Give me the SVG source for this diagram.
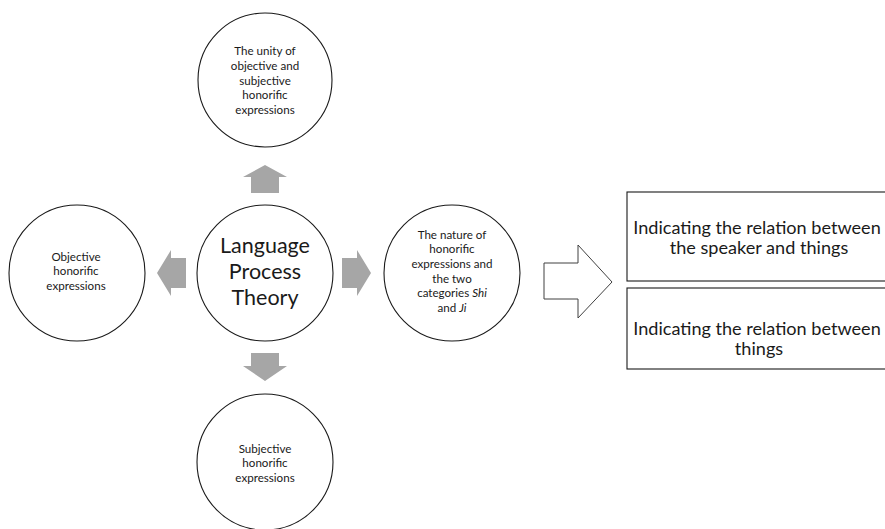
<svg xmlns="http://www.w3.org/2000/svg" width="885" height="529" viewBox="0 0 885 529">
<style>
.c{fill:#fff;stroke:#1a1a1a;stroke-width:1.1}
.b{fill:#fff;stroke:#1a1a1a;stroke-width:1.1}
.a{fill:#a6a6a6;stroke:none}
.o{fill:#fff;stroke:#404040;stroke-width:1}
text{font-family:Lato,"Open Sans","Liberation Sans",sans-serif;fill:#1a1a1a;text-anchor:middle}
.s{font-size:11.6px}
.l{font-size:21.5px}
.m{font-size:18.1px}
</style>
<rect width="885" height="529" fill="#fff"/>
<g id="connectors">
<polygon class="a" points="265,165 287,177 279,177 279,193 251,193 251,177 243,177"/>
<polygon class="a" points="265,381 287,366 279,366 279,353 251,353 251,366 243,366"/>
<polygon class="a" points="157,273 171,250 171,258 186,258 186,288 171,288 171,296"/>
<polygon class="a" points="371,273 357,250 357,258 342,258 342,288 357,288 357,296"/>
<polygon class="o" points="544,263 578,263 578,245 612,282 578,318 578,299 544,299"/>
</g>
<g id="center">
<circle class="c" cx="265" cy="273" r="68"/>
<text class="l"><tspan x="265" y="253">Language</tspan><tspan x="265" y="279">Process</tspan><tspan x="265" y="305">Theory</tspan></text>
</g>
<g id="top">
<circle class="c" cx="265" cy="80" r="67"/>
<text class="s"><tspan x="265" y="55">The unity of</tspan><tspan x="265" y="70">objective and</tspan><tspan x="265" y="85">subjective</tspan><tspan x="265" y="99">honorific</tspan><tspan x="265" y="114">expressions</tspan></text>
</g>
<g id="left">
<circle class="c" cx="77" cy="273" r="68"/>
<text class="s"><tspan x="76" y="261">Objective</tspan><tspan x="76" y="275">honorific</tspan><tspan x="76" y="290">expressions</tspan></text>
</g>
<g id="right">
<circle class="c" cx="452" cy="273" r="68"/>
<text class="s"><tspan x="452" y="239">The nature of</tspan><tspan x="452" y="253">honorific</tspan><tspan x="452" y="268">expressions and</tspan><tspan x="452" y="283">the two</tspan><tspan x="452" y="297">categories <tspan font-style="italic">Shi</tspan></tspan><tspan x="452" y="312">and <tspan font-style="italic">Ji</tspan></tspan></text>
</g>
<g id="bottom">
<circle class="c" cx="265" cy="462" r="68"/>
<text class="s"><tspan x="265" y="453">Subjective</tspan><tspan x="265" y="467">honorific</tspan><tspan x="265" y="482">expressions</tspan></text>
</g>
<g id="box1">
<rect class="b" x="627" y="192" width="268" height="89"/>
<text class="m"><tspan x="757" y="234">Indicating the relation between</tspan><tspan x="759" y="254">the speaker and things</tspan></text>
</g>
<g id="box2">
<rect class="b" x="627" y="288" width="268" height="81"/>
<text class="m"><tspan x="757" y="335">Indicating the relation between</tspan><tspan x="759" y="355">things</tspan></text>
</g>
</svg>
